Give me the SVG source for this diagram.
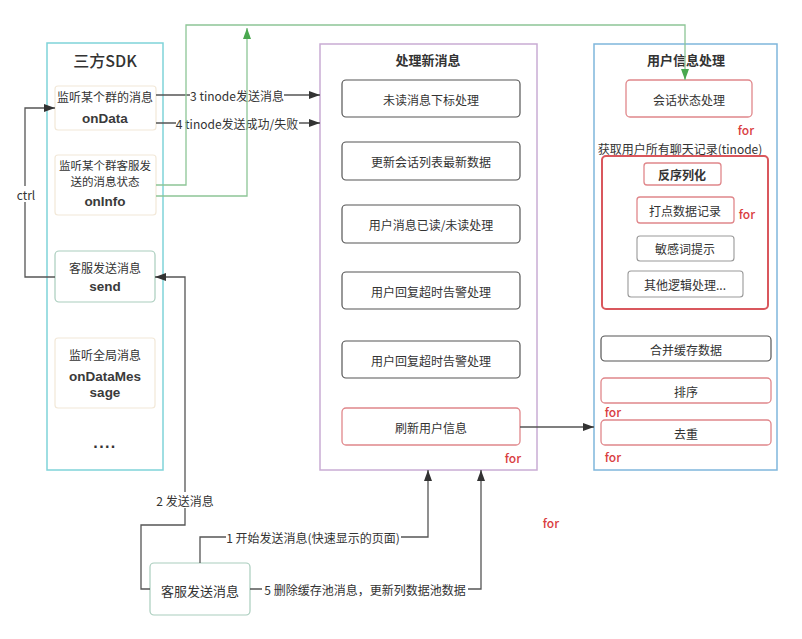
<svg xmlns="http://www.w3.org/2000/svg" width="802" height="639" viewBox="0 0 802 639">
<style>
text{font-family:"Noto Sans CJK SC","Liberation Sans",sans-serif;fill:#333;text-anchor:middle;dominant-baseline:central;font-size:12px}
.t{font-size:13px;font-weight:bold}
.code{font-family:"Liberation Sans","Noto Sans CJK SC",sans-serif;font-size:13.5px;font-weight:bold;fill:#3a3a3a}
.for{fill:#d9403f;font-size:12px;font-weight:500}
.cont{fill:#fff;stroke-width:1.5}
.box{fill:#fff;stroke:#555;stroke-width:1.2}
.beige{fill:#fff;stroke:#f2e8d8;stroke-width:1.2}
.greenbox{fill:#fff;stroke:#a9cdbd;stroke-width:1.2}
.redbox{fill:#fff;stroke:#e0878b;stroke-width:1.3}
.graybox{fill:#fff;stroke:#999;stroke-width:1.1}
.ln{fill:none;stroke:#555;stroke-width:1.3}
.gl{fill:none;stroke:#8dc596;stroke-width:1.3}
.bg{fill:#fff}
</style>
<defs>
<marker id="ar" markerWidth="11" markerHeight="8" refX="11" refY="4" orient="auto" markerUnits="userSpaceOnUse"><path d="M0,0 L11,4 L0,8 z" fill="#333"/></marker>
<marker id="ag" markerWidth="11" markerHeight="8" refX="11" refY="4" orient="auto" markerUnits="userSpaceOnUse"><path d="M0,0 L11,4 L0,8 z" fill="#4aa84f"/></marker>
</defs>
<rect width="802" height="639" fill="#fff"/>

<g id="sdk">
<rect class="cont" x="47" y="43" width="116" height="427" stroke="#7fd3d9"/>
<text x="105" y="60" style="font-size:16px;font-weight:500">三方SDK</text>
</g>
<g id="onData">
<rect class="beige" x="55" y="86" width="101" height="44" rx="3"/>
<text x="105" y="96">监听某个群的消息</text>
<text class="code" x="105" y="118">onData</text>
</g>
<g id="onInfo">
<rect class="beige" x="55" y="155" width="101" height="60" rx="3"/>
<text x="105" y="165" style="font-size:11.5px">监听某个群客服发</text>
<text x="105" y="181" style="font-size:11.5px">送的消息状态</text>
<text class="code" x="105" y="201">onInfo</text>
</g>
<g id="send">
<rect class="greenbox" x="55" y="251" width="100" height="51" rx="4"/>
<text x="105" y="267">客服发送消息</text>
<text class="code" x="105" y="286">send</text>
</g>
<g id="onDataMessage">
<rect class="beige" x="55" y="338" width="100" height="70" rx="3"/>
<text x="105" y="354">监听全局消息</text>
<text class="code" x="105" y="376">onDataMes</text>
<text class="code" x="105" y="392">sage</text>
</g>
<g id="dots"><text x="105" y="446" style="font-family:'Liberation Sans',sans-serif;font-size:16px;font-weight:bold;letter-spacing:0.5px">····</text></g>

<g id="proc">
<rect class="cont" x="320" y="44" width="217" height="426" stroke="#c9acd4"/>
<text class="t" x="428" y="59">处理新消息</text>
</g>
<g id="p1"><rect class="box" x="342" y="80" width="178" height="37" rx="4"/><text x="431" y="99">未读消息下标处理</text></g>
<g id="p2"><rect class="box" x="342" y="142" width="178" height="38" rx="4"/><text x="431" y="161">更新会话列表最新数据</text></g>
<g id="p3"><rect class="box" x="342" y="205" width="178" height="38" rx="4"/><text x="431" y="224">用户消息已读/未读处理</text></g>
<g id="p4"><rect class="box" x="342" y="272" width="178" height="37" rx="4"/><text x="431" y="291">用户回复超时告警处理</text></g>
<g id="p5"><rect class="box" x="342" y="341" width="178" height="37" rx="4"/><text x="431" y="360">用户回复超时告警处理</text></g>
<g id="p6"><rect class="redbox" x="342" y="408" width="178" height="37" rx="4"/><text x="431" y="427">刷新用户信息</text></g>
<text class="for" x="513" y="457">for</text>

<g id="user">
<rect class="cont" x="594" y="44" width="183" height="426" stroke="#7fb6dc"/>
<text class="t" x="686" y="59">用户信息处理</text>
</g>
<g id="u1"><rect class="redbox" x="626" y="80" width="126" height="37" rx="4"/><text x="689" y="99">会话状态处理</text></g>
<text class="for" x="746" y="129">for</text>
<text x="680" y="148">获取用户所有聊天记录(tinode)</text>
<g id="ugroup"><rect x="602" y="156" width="166" height="153" rx="4" fill="#fff" stroke="#d9575d" stroke-width="2"/></g>
<g id="u2"><rect class="redbox" x="644" y="163" width="77" height="22" rx="3" stroke="#d9575d"/><text x="682" y="174" style="font-weight:bold">反序列化</text></g>
<g id="u3"><rect class="redbox" x="637" y="197" width="97" height="26" rx="3"/><text x="685" y="210">打点数据记录</text></g>
<text class="for" x="747" y="213">for</text>
<g id="u4"><rect class="graybox" x="637" y="236" width="97" height="25" rx="3"/><text x="685" y="248">敏感词提示</text></g>
<g id="u5"><rect class="graybox" x="628" y="271" width="115" height="26" rx="3"/><text x="685" y="284">其他逻辑处理...</text></g>
<g id="u6"><rect class="box" x="601" y="336" width="170" height="25" rx="4"/><text x="686" y="349">合并缓存数据</text></g>
<g id="u7"><rect class="redbox" x="601" y="378" width="170" height="25" rx="4"/><text x="686" y="391">排序</text></g>
<text class="for" x="613" y="411">for</text>
<g id="u8"><rect class="redbox" x="601" y="420" width="170" height="25" rx="4"/><text x="686" y="433">去重</text></g>
<text class="for" x="613" y="456">for</text>

<g id="cs">
<rect class="greenbox" x="150" y="563" width="100" height="52" rx="4"/>
<text x="200" y="590" style="font-size:13px">客服发送消息</text>
</g>
<text class="for" x="551" y="522">for</text>

<g id="connectors">
<path class="ln" d="M55,277 H25 V108 H55" marker-end="url(#ar)"/>
<rect class="bg" x="14" y="186" width="24" height="16"/>
<text x="26" y="194">ctrl</text>

<path class="ln" d="M156,95 H320" marker-end="url(#ar)"/>
<rect class="bg" x="190" y="87" width="94" height="16"/>
<text x="237" y="95">3 tinode发送消息</text>
<path class="ln" d="M156,123 H320" marker-end="url(#ar)"/>
<rect class="bg" x="176" y="115" width="123" height="16"/>
<text x="237" y="123">4 tinode发送成功/失败</text>

<path class="gl" d="M156,185 H186 V25 H685 V80" marker-end="url(#ag)"/>
<path class="gl" d="M156,196 H247 V28" marker-end="url(#ag)"/>

<path class="ln" d="M520,427 H594" marker-end="url(#ar)"/>

<path class="ln" d="M150,589 H141 V525 H185 V277 H155" marker-end="url(#ar)"/>
<rect class="bg" x="153" y="492" width="64" height="16"/>
<text x="185" y="500">2 发送消息</text>

<path class="ln" d="M200,563 V537 H428 V470" marker-end="url(#ar)"/>
<rect class="bg" x="226" y="529" width="175" height="16"/>
<text x="313" y="537">1 开始发送消息(快速显示的页面)</text>

<path class="ln" d="M250,589 H481 V470" marker-end="url(#ar)"/>
<rect class="bg" x="262" y="581" width="206" height="16"/>
<text x="365" y="589">5 删除缓存池消息，更新列数据池数据</text>
</g>
</svg>
